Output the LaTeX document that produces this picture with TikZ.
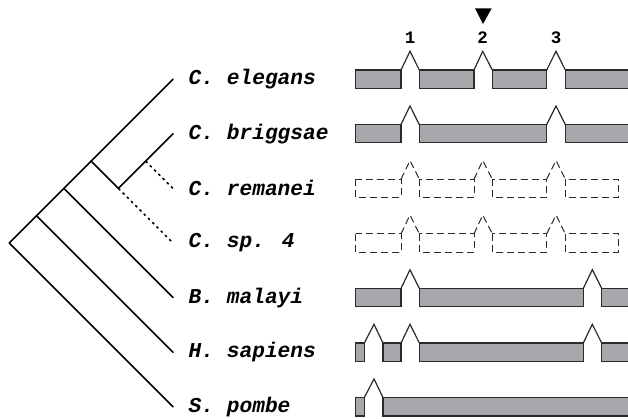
\documentclass[tikz,border=0pt]{standalone}
\usepackage{fontspec}
\newfontfamily\labfont[BoldItalicFont={* Bold Italic}]{Liberation Mono}
\newfontfamily\numfont{Liberation Mono}
\definecolor{exgray}{HTML}{A7A8AB}
\definecolor{exline}{HTML}{2A2A2A}
\newcommand{\exonrow}[3]{%
  \foreach \a/\b in {#2} \draw[#3] (\a,#1) rectangle (\b,{#1+18.3});}
\newcommand{\intronrow}[3]{%
  \foreach \a/\p/\b in {#2} \draw[#3] (\a,#1) -- (\p,{#1-18.7}) -- (\b,#1);}
\begin{document}
\begin{tikzpicture}[x=1pt,y=-1pt,
  tree/.style={line width=1.6pt, draw=black, line cap=round, line join=round},
  dotbranch/.style={line width=1.6pt, draw=black, dash pattern=on 2.5pt off 3.5pt},
  exon/.style={fill=exgray, draw=exline, line width=1.2pt},
  intr/.style={draw=exline, line width=1.2pt, line join=miter},
  dexon/.style={draw=exline, line width=1pt, dash pattern=on 7pt off 4pt},
  dintr/.style={draw=exline, line width=1pt, dash pattern=on 7pt off 4pt},
  lab/.style={anchor=west, inner sep=0pt, font=\labfont\fontsize{21.2}{24}\selectfont\bfseries\itshape},
  num/.style={inner sep=0pt, font=\numfont\fontsize{17.5}{20}\selectfont\bfseries},
]
\useasboundingbox (0,0) rectangle (628,419);
% tree coordinates
\coordinate (root) at (9.2,243);
\coordinate (nH) at (36.5,215.7);
\coordinate (nB) at (63.8,188.4);
\coordinate (nC) at (91.1,161.1);
\coordinate (nD) at (118.4,188.4);
\coordinate (nR) at (145.7,161.1);
\coordinate (lE) at (173,79.2);
\coordinate (lBr) at (173,133.8);
\coordinate (lRe) at (173,188.4);
\coordinate (lSp) at (173,243);
\coordinate (lBm) at (173,297.6);
\coordinate (lHs) at (173,352.2);
\coordinate (lSpo) at (173,406.8);
\draw[tree] (lSpo) -- (root) -- (lE);
\draw[tree] (nH) -- (lHs);
\draw[tree] (nB) -- (lBm);
\draw[tree] (nC) -- (nD) -- (lBr);
\draw[dotbranch] (nD) -- (lSp);
\draw[dotbranch] (nR) -- (lRe);
% labels
\node[lab] (tE) at (188.5,79.2) {C. elegans};
\node[lab] (tBr) at (188.5,133.8) {C. briggsae};
\node[lab] (tRe) at (188.5,188.4) {C. remanei};
\node[lab] (tSp) at (188.5,243) {C. sp. 4};
\node[lab] (tBm) at (188.5,297.6) {B. malayi};
\node[lab] (tHs) at (188.5,352.2) {H. sapiens};
\node[lab] (tSpo) at (188.5,406.8) {S. pombe};
% intron numbers
\node[num] (n1) at (410,37.3) {1};
\node[num] (n2) at (482.7,37.3) {2};
\node[num] (n3) at (556,37.3) {3};
\fill[black] (475,8.3) -- (491.7,8.3) -- (483,24) -- cycle;
% gene rows
\exonrow{70}{355.7/401, 419.3/474, 492.3/546.7, 565.3/640}{exon}
\intronrow{70}{401/410/419.3, 474/482.7/492.3, 546.7/556/565.3}{intr}
\exonrow{124.6}{355.7/401, 419.3/546.7, 565.3/640}{exon}
\intronrow{124.6}{401/410/419.3, 546.7/556/565.3}{intr}
\exonrow{179.2}{355.7/401, 419.3/474, 492.3/546.7, 565.3/618.3}{dexon}
\intronrow{179.2}{401/410/419.3, 474/482.7/492.3, 546.7/556/565.3}{dintr}
\exonrow{233.8}{355.7/401, 419.3/474, 492.3/546.7, 565.3/618.3}{dexon}
\intronrow{233.8}{401/410/419.3, 474/482.7/492.3, 546.7/556/565.3}{dintr}
\exonrow{288.4}{355.7/401, 419.3/583.3, 601.7/640}{exon}
\intronrow{288.4}{401/410/419.3, 583.3/592.3/601.7}{intr}
\exonrow{343}{355.7/364.3, 383/401, 419.3/583.3, 601.7/640}{exon}
\intronrow{343}{364.3/374/383, 401/410/419.3, 583.3/592.3/601.7}{intr}
\exonrow{397.6}{355.7/364.3, 383/640}{exon}
\intronrow{397.6}{364.3/374/383}{intr}
\end{tikzpicture}
\end{document}
